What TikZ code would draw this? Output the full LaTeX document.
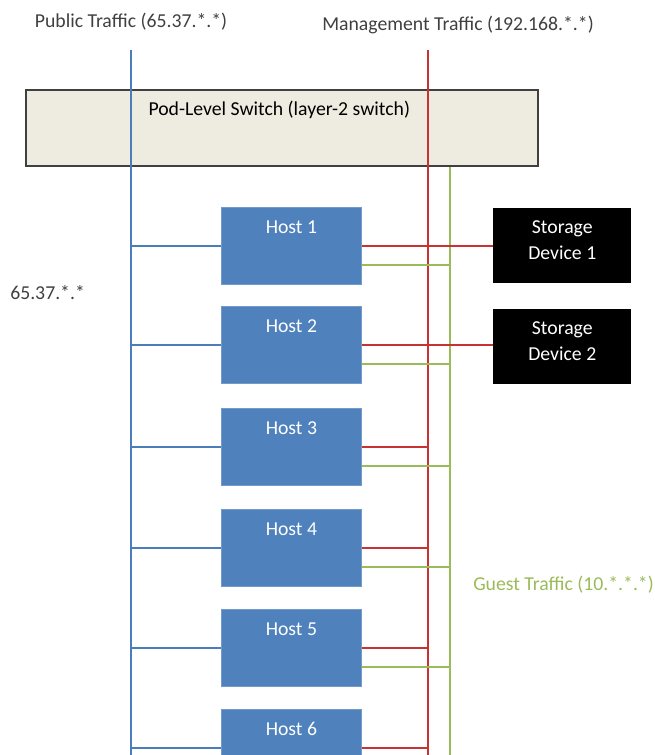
\documentclass[tikz,border=0pt]{standalone}
\usepackage{fontspec}
\setmainfont{Carlito}
\usetikzlibrary{calc}
\definecolor{hostblue}{HTML}{4F81BD}
\definecolor{pubblue}{HTML}{4A7EBB}
\definecolor{mgmtred}{HTML}{C83232}
\definecolor{guestgreen}{HTML}{9BBB59}
\definecolor{switchfill}{HTML}{EEECE1}
\definecolor{labelgray}{HTML}{404040}
\begin{document}
\begin{tikzpicture}[x=0.75pt, y=-0.75pt, font=\fontsize{14.8}{19.5}\selectfont,
  host/.style={fill=hostblue, draw=hostblue!80!white, line width=0.6pt,
    text=white, inner sep=0pt, minimum width=105pt,
    text height=19.5pt, text depth=38.25pt, anchor=north west},
  storage/.style={fill=black, text=white, inner sep=0pt, align=center,
    minimum width=103.5pt, text height=38.25pt, text depth=18pt,
    anchor=north west},
  switchbox/.style={fill=switchfill, draw=labelgray, line width=1.4pt,
    inner sep=0pt, minimum width=384pt, text height=19.5pt,
    text depth=37.5pt, anchor=north west},
  netlabel/.style={text=labelgray, inner sep=0pt},
  pub/.style={pubblue, line width=1pt},
  mgmt/.style={mgmtred, line width=1pt},
  guest/.style={guestgreen, line width=1pt}]
\useasboundingbox (0,0) rectangle (654,755);
\clip (0,0) rectangle (654,755);
% pod-level switch, drawn first so the trunk lines run across it
\node[switchbox] (sw) at (25,89) {\hspace*{-4pt}Pod-Level Switch (layer-2 switch)};
% network trunks: public, management, guest
\coordinate (pubtop) at (131,50);
\coordinate (pubbot) at (131,755);
\coordinate (mgmttop) at (428,50);
\coordinate (mgmtbot) at (428,755);
\coordinate (guesttop) at (sw.south -| 450,0);
\coordinate (guestbot) at (450,755);
\draw[pub] (pubtop) -- (pubbot);
\draw[mgmt] (mgmttop) -- (mgmtbot);
\draw[guest] (guesttop) -- (guestbot);
\node[netlabel] (publab) at (131,22) {Public Traffic (65.37.*.*)};
\node[netlabel] (mgmtlab) at (458,25) {Management Traffic (192.168.*.*)};
\node[netlabel, anchor=west] (pubnet) at (10,293) {65.37.*.*};
\node[netlabel, text=guestgreen, anchor=west] (guestlab) at (473,585)
  {Guest Traffic (10.*.*.*)};
% storage devices on the management net
\foreach \i/\y in {1/208,2/309}
  \node[storage] (s\i) at (493,\y) {Storage\\Device \i};
% hosts: top edge of each box; links leave from the right side
\foreach \i/\y in {1/207,2/306,3/408,4/509,5/609,6/709} {
  \node[host] (h\i) at (221,\y) {Host \i};
  \coordinate (hr\i) at ($(h\i.north east)+(0,39)$);
  \coordinate (hg\i) at ($(h\i.north east)+(0,58)$);
  \draw[pub] (pubtop |- hr\i) -- (h\i.west |- hr\i);
  \ifnum\i<3
    \draw[mgmt] (hr\i) -- (hr\i -| s\i.west);
  \else
    \draw[mgmt] (hr\i) -- (hr\i -| mgmttop);
  \fi
  \draw[guest] (hg\i) -- (hg\i -| guesttop);
}
\end{tikzpicture}
\end{document}
